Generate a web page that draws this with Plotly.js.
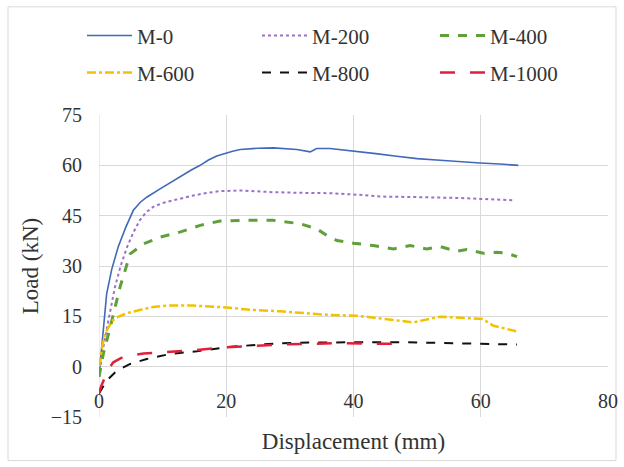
<!DOCTYPE html>
<html><head><meta charset="utf-8">
<script src="https://cdn.plot.ly/plotly-3.0.1.min.js"></script>
<style>html,body{margin:0;padding:0;background:#fff}</style>
</head><body><div id="chart" style="width:624px;height:467px"></div>
<script>
const seriesNames = ["M-0", "M-200", "M-400", "M-600", "M-800", "M-1000"];
const m0X = [0, 0.4, 0.8, 1.2, 2, 3, 4.2, 5.4, 6.5, 7.5, 9.6, 12.2, 14.5, 15.9, 17.2, 18.5, 19.8, 21, 22.2, 25, 27.4, 29.5, 31.1, 33.2, 34.2, 36.3, 40, 43.5, 46.8, 50, 53.6, 57, 59.9, 63, 65.9];
const m0Y = [-3, 6, 14, 21.7, 29, 35.6, 41.5, 46.6, 49, 50.5, 53, 56, 58.6, 60, 61.6, 62.8, 63.6, 64.2, 64.7, 65.1, 65.2, 65, 64.7, 64, 65, 65, 64.3, 63.5, 62.7, 62, 61.5, 61, 60.7, 60.4, 60];
const m200X = [0, 0.6, 1.5, 2.5, 3.4, 4.4, 5.4, 6.4, 7.4, 8.5, 10, 11.7, 14.8, 17, 19, 22.2, 27.4, 32, 36.3, 41, 44.2, 48, 52, 56, 59.9, 62.5, 65.1];
const m200Y = [-3, 5, 14, 23.7, 30, 35.6, 40, 43.6, 46, 47.6, 48.8, 49.6, 51, 51.8, 52.3, 52.5, 52, 51.8, 51.7, 51.2, 50.7, 50.6, 50.5, 50.3, 50, 49.8, 49.6];
const m400X = [0, 0.7, 1.8, 3.3, 4.9, 7, 9.6, 12.7, 15.9, 19, 23.2, 27.4, 31.6, 34.2, 35.8, 37.4, 40, 43.1, 46.3, 48.9, 51.5, 53.6, 56.2, 57.8, 60.4, 62.5, 64.1, 65.7];
const m400Y = [-3, 4, 12, 23.7, 33.6, 36.6, 38.6, 40.1, 42.1, 43.4, 43.6, 43.6, 42.6, 41.1, 39.1, 37.6, 36.8, 36.1, 35.1, 36.1, 35.1, 35.8, 34.4, 34.9, 33.8, 34.1, 33.8, 32.8];
const m600X = [0, 0.5, 1, 2, 2.8, 4.5, 6.4, 8.5, 10.6, 14.8, 19.5, 24.2, 28.5, 32.6, 36.3, 40.5, 45.2, 49.4, 53.6, 58.3, 60.3, 62, 65.7];
const m600Y = [0, 6, 10, 13.5, 14.7, 16, 16.9, 17.8, 18.2, 18.2, 17.7, 16.9, 16.5, 15.9, 15.4, 15.2, 14.2, 13.2, 14.9, 14.5, 14.2, 12.2, 10.5];
const m800X = [0, 0.6, 1.2, 2.8, 4.9, 7.5, 11.2, 15.4, 20.1, 24, 28.5, 33, 37.9, 42, 46.8, 50.5, 54.7, 60, 65.7];
const m800Y = [-8, -6, -4.2, -1.2, 0.8, 2.3, 3.8, 4.6, 5.8, 6.4, 7.0, 7.2, 7.3, 7.3, 7.3, 7.2, 7.0, 6.8, 6.6];
const m1000X = [0, 0.3, 0.7, 1.4, 2.25, 3.5, 4.9, 7, 10.1, 14.3, 20.1, 24, 28.5, 33, 37.9, 42, 46.3];
const m1000Y = [-8, -6, -4.2, -1, 1.3, 2.6, 3.3, 3.9, 4.3, 4.8, 5.8, 6.2, 6.6, 6.8, 7.0, 6.9, 6.8];
const xTicks = [0, 20, 40, 60, 80];
const yTicks = [-15, 0, 15, 30, 45, 60, 75];

const xs = [m0X, m200X, m400X, m600X, m800X, m1000X];
const ys = [m0Y, m200Y, m400Y, m600Y, m800Y, m1000Y];
const styles = [
  {color: "#4169B8", width: 1.6, dash: "solid"},
  {color: "#9B6FCB", width: 2, dash: "dot"},
  {color: "#5FA03A", width: 3, dash: "dash"},
  {color: "#F2C200", width: 2.5, dash: "dashdot"},
  {color: "#111111", width: 2, dash: "dash"},
  {color: "#E0203A", width: 2.5, dash: "longdash"}
];
const FAM = "Liberation Serif";
// plot area in pixels: left 99, width 509, bottom 416.5, height 301.5
const legendColPx = [82, 257, 435];
const legendRowPx = [36, 73];
const legendIds = ["legend", "legend2", "legend3", "legend4", "legend5", "legend6"];

const traces = seriesNames.map((n, i) => ({
  type: "scatter", mode: "lines", name: n, x: xs[i], y: ys[i],
  line: styles[i], xaxis: "x", yaxis: "y", legend: legendIds[i]
}));
traces.push({type: "scatter", mode: "lines", x: [0, 80], y: [null, null], xaxis: "x2", yaxis: "y", showlegend: false, hoverinfo: "skip"});

const layout = {
  width: 624, height: 467,
  margin: {l: 99, r: 16, t: 115, b: 50, pad: 0, autoexpand: false},
  paper_bgcolor: "#fff", plot_bgcolor: "#fff",
  font: {family: FAM, color: "#333", size: 20},
  showlegend: true,
  xaxis: {range: [0, 80], tickvals: xTicks, showticklabels: false, showgrid: true, gridcolor: "#D9D9D9", gridwidth: 1,
    zeroline: false, showline: false, ticks: "",
    title: {text: "Displacement (mm)", font: {family: FAM, size: 23, color: "#333"}, standoff: 15}},
  xaxis2: {range: [0, 80], overlaying: "x", anchor: "free", position: 0.1, side: "bottom", tickvals: xTicks,
    showgrid: false, zeroline: false, showline: false, ticks: "", tickfont: {family: FAM, size: 20, color: "#333"}},
  yaxis: {range: [-15, 75], tickvals: yTicks, showgrid: true, gridcolor: "#D9D9D9", gridwidth: 1,
    zeroline: false, showline: false, ticks: "", ticklabelstandoff: 16, tickfont: {family: FAM, size: 20, color: "#333"},
    title: {text: "Load (kN)", font: {family: FAM, size: 23, color: "#333"}, standoff: 5}},
  shapes: [
    {type: "line", xref: "x", yref: "paper", x0: 0, x1: 0, y0: 0, y1: 1, line: {color: "#D9D9D9", width: 1}, layer: "below"},
    {type: "rect", xref: "paper", yref: "paper", x0: -91/509, x1: 517/509, y0: -43.5/301.5, y1: 409.5/301.5,
      line: {color: "#D9D9D9", width: 1}, layer: "below"}
  ]
};
legendIds.forEach((id, i) => {
  layout[id] = {orientation: "h", xanchor: "left", yanchor: "middle",
    x: (legendColPx[i % 3] - 99) / 509, y: (416.5 - legendRowPx[Math.floor(i / 3)]) / 301.5,
    itemwidth: 45, font: {family: FAM, size: 21, color: "#333"}, bgcolor: "rgba(0,0,0,0)"};
});
Plotly.newPlot("chart", traces, layout, {displayModeBar: false});
</script>
</body></html>
